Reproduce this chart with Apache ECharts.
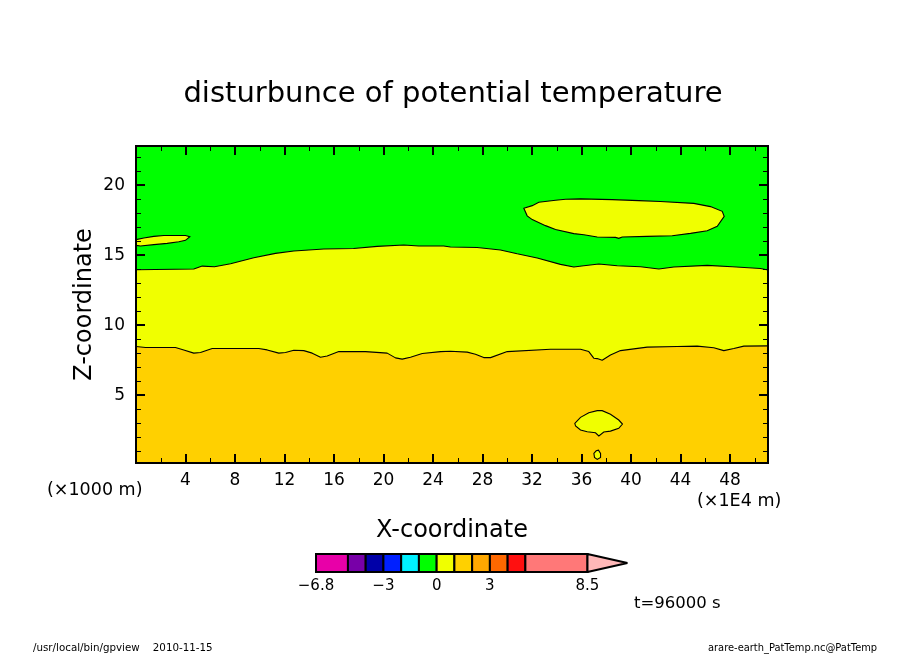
<!DOCTYPE html>
<html><head><meta charset="utf-8">
<style>html,body{margin:0;padding:0;background:#fff}#c{width:904px;height:654px}</style>
<script src="https://cdn.jsdelivr.net/npm/echarts@6/dist/echarts.min.js"></script>
</head><body><div id="c"></div>
<script>
const xMax = 51.07, zMin = 0.15, zMax = 22.8;
const xMajor = [4,8,12,16,20,24,28,32,36,40,44,48];
const xMinor = [2,6,10,14,18,22,26,30,34,38,42,46,50];
const zMajor = [5,10,15,20];
const zMinor = [1,2,3,4,6,7,8,9,11,12,13,14,16,17,18,19,21,22];
const greenTop = [[0,22.8],[51.07,22.8]];
const contourUpper = [[0,13.96],[4.67,14.01],[5.35,14.22],[6.34,14.17],[7.64,14.39],[9.52,14.82],[11.27,15.13],[12.75,15.30],[15.18,15.44],[17.58,15.48],[19.49,15.63],[21.64,15.73],[22.85,15.65],[24.87,15.65],[25.41,15.58],[27.57,15.55],[29.45,15.37],[30.8,15.10],[32.42,14.80],[34.3,14.34],[35.38,14.15],[36.19,14.24],[37.4,14.37],[38.89,14.24],[40.77,14.17],[42.25,14.01],[43.46,14.15],[46.16,14.27],[48.18,14.17],[50.46,14.05],[51.07,13.94]];
const contourLower = [[0,8.47],[0.77,8.40],[3.19,8.40],[3.86,8.23],[4.67,8.00],[5.21,8.04],[6.16,8.33],[9.92,8.33],[10.6,8.23],[11.54,8.00],[12.08,8.04],[12.75,8.21],[13.56,8.18],[14.24,8.00],[14.91,7.71],[15.45,7.80],[16.39,8.11],[18.55,8.11],[20.3,8.00],[20.97,7.66],[21.51,7.57],[22.18,7.71],[23.13,7.97],[24.61,8.11],[25.41,8.14],[26.76,8.07],[27.43,7.92],[28.1,7.68],[28.65,7.68],[30.0,8.11],[33.5,8.28],[35.92,8.28],[36.59,8.11],[36.99,7.64],[37.27,7.61],[37.67,7.49],[38.34,7.87],[39.15,8.18],[41.31,8.43],[43.73,8.47],[45.35,8.50],[46.69,8.38],[47.5,8.18],[48.31,8.33],[49.12,8.50],[51.07,8.52]];
const lensLeft = [[0,16.11],[0.63,16.23],[1.44,16.34],[2.25,16.41],[4.0,16.41],[4.35,16.32],[4.0,16.06],[3.46,15.96],[2.52,15.84],[1.44,15.75],[0.36,15.66],[0,15.70]];
const lensBig = [[31.34,18.35],[32.02,18.54],[32.55,18.78],[33.9,18.92],[34.71,18.99],[35.92,19.02],[38.48,18.97],[40.63,18.90],[42.38,18.83],[45.07,18.70],[46.42,18.47],[47.37,18.13],[47.53,17.77],[46.97,17.06],[46.16,16.75],[44.81,16.56],[43.33,16.39],[41.31,16.34],[39.29,16.30],[39.01,16.20],[38.75,16.27],[37.27,16.30],[36.19,16.46],[35.38,16.54],[33.9,16.84],[33.09,17.11],[32.02,17.54],[31.61,17.81]];
const lensLow = [[35.46,2.98],[35.92,3.41],[36.59,3.74],[37.27,3.89],[37.67,3.89],[38.34,3.63],[39.01,3.22],[39.31,2.93],[39.01,2.63],[38.34,2.43],[37.8,2.36],[37.4,2.08],[37.13,2.31],[36.46,2.38],[35.92,2.51],[35.52,2.79]];
const lensTiny = [[37.0,0.84],[37.19,1.02],[37.37,1.07],[37.54,0.84],[37.54,0.55],[37.27,0.41],[37.05,0.55]];
const barLevels = [-6.8,-5,-4,-3,-2,-1,0,1,2,3,4,5,8.5];
const barColors = ['#e800a8','#7800a8','#0000a8','#0020ff','#00f0ff','#00ff00','#f0ff00','#ffd000','#ffa800','#ff6800','#ff1010','#ff7878'];
const barTipEnd = 10.75, barTipColor = '#ffb8b8';
const barLabels = [-6.8,-3,0,3,8.5];

const F = '"DejaVu Sans"';
const G = {left:136, top:146, width:632, height:317};
const gx = (extra) => Object.assign({
  type:'value', gridIndex:0, min:0, max:xMax, position:'bottom', z:10,
  axisLine:{show:true,onZero:false,lineStyle:{color:'#000',width:2}},
  splitLine:{show:false}, axisLabel:{show:false}, axisTick:{show:false}
}, extra);
const gy = (extra) => Object.assign({
  type:'value', gridIndex:0, min:zMin, max:zMax, position:'left', z:10,
  axisLine:{show:true,onZero:false,lineStyle:{color:'#000',width:2}},
  splitLine:{show:false}, axisLabel:{show:false}, axisTick:{show:false}
}, extra);
const tick = (vals,len,w) => ({show:true,inside:true,length:len,customValues:vals,lineStyle:{color:'#000',width:w}});

const closedLens = (poly) => ({
  type:'custom', xAxisIndex:0, yAxisIndex:0, z:5, silent:true, clip:true,
  coordinateSystem:'cartesian2d', data:poly, encode:{x:0,y:1},
  renderItem:(p,api)=> p.dataIndex===0 ? ({
    type:'polygon',
    shape:{points:poly.map(q=>api.coord(q))},
    style:{fill:'#f0ff00',stroke:'#000',lineWidth:1.1}
  }) : null
});
const band = (data,fill,lw,z) => ({
  type:'line', xAxisIndex:0, yAxisIndex:0, data, z, showSymbol:false, symbol:'none', silent:true,
  lineStyle:{color:'#000',width:lw}, areaStyle:{color:fill,opacity:1,origin:'start'}
});

const chart = echarts.init(document.getElementById('c'),null,{renderer:'canvas'});
chart.setOption({
  animation:false, backgroundColor:'#fff',
  title:{text:'disturbunce of potential temperature',left:448,textAlign:'center',top:75,
    textStyle:{fontFamily:F,fontSize:29,fontWeight:'normal',color:'#000'}},
  grid:[G,{left:316,top:554,width:311.4,height:18}],
  xAxis:[
    gx({name:'X-coordinate',nameLocation:'middle',nameGap:56,nameTextStyle:{fontFamily:F,fontSize:24,color:'#000'},
        axisLabel:{show:true,customValues:xMajor,margin:9,fontFamily:F,fontSize:17,color:'#000'},axisTick:tick(xMajor,9,2)}),
    gx({axisTick:tick(xMinor,5,1)}),
    gx({position:'top',axisTick:tick(xMajor,9,2)}),
    gx({position:'top',axisTick:tick(xMinor,5,1)}),
    {type:'value',gridIndex:1,min:barLevels[0],max:barTipEnd,position:'bottom',
     axisLine:{show:false},splitLine:{show:false},axisTick:{show:false},
     axisLabel:{show:true,customValues:barLabels,margin:7,fontFamily:F,fontSize:15,color:'#000',
       formatter:v=>String(v).replace('-','\u2212')}}
  ],
  yAxis:[
    gy({name:'Z-coordinate',nameLocation:'middle',nameGap:39,nameMoveOverlap:false,nameRotate:90,nameTextStyle:{fontFamily:F,fontSize:24,color:'#000'},
        axisLabel:{show:true,customValues:zMajor,margin:11,fontFamily:F,fontSize:17,color:'#000'},axisTick:tick(zMajor,9,2)}),
    gy({axisTick:tick(zMinor,5,1)}),
    gy({position:'right',axisTick:tick(zMajor,9,2)}),
    gy({position:'right',axisTick:tick(zMinor,5,1)}),
    {type:'value',gridIndex:1,min:0,max:1,show:false}
  ],
  series:[
    band(greenTop,'#00ff00',0,2),
    band(contourUpper,'#f0ff00',1.1,3),
    band(contourLower,'#ffd000',1.1,4),
    closedLens(lensLeft),closedLens(lensBig),closedLens(lensLow),closedLens(lensTiny),
    {type:'custom',xAxisIndex:4,yAxisIndex:4,silent:true,coordinateSystem:'cartesian2d',z:5,
     data:barColors.map((c,i)=>[barLevels[i],barLevels[i+1]]),encode:{x:[0,1]},
     renderItem:(p,api)=>{
       const a=api.coord([api.value(0),1]),b=api.coord([api.value(1),0]);
       return {type:'rect',shape:{x:a[0],y:a[1],width:b[0]-a[0],height:b[1]-a[1]},
         style:{fill:barColors[p.dataIndex],stroke:'#000',lineWidth:2}};
     }},
    {type:'custom',xAxisIndex:4,yAxisIndex:4,silent:true,coordinateSystem:'cartesian2d',z:5,
     data:[[barLevels[barLevels.length-1],barTipEnd]],encode:{x:[0,1]},
     renderItem:(p,api)=>({type:'polygon',shape:{points:[api.coord([api.value(0),1]),api.coord([api.value(1),0.5]),api.coord([api.value(0),0])]},
       style:{fill:barTipColor,stroke:'#000',lineWidth:2,lineJoin:'bevel'}})}
  ],
  graphic:[
    {type:'text',left:47,top:481,style:{text:'(\u00d71000 m)',fontFamily:F,fontSize:17.5,fill:'#000'}},
    {type:'text',left:697,top:492,style:{text:'(\u00d71E4 m)',fontFamily:F,fontSize:17.5,fill:'#000'}},
    {type:'text',left:634,top:595,style:{text:'t=96000 s',fontFamily:F,fontSize:16.5,fill:'#000'}},
    {type:'text',left:33,top:643,style:{text:'/usr/local/bin/gpview    2010-11-15',fontFamily:F,fontSize:10.3,fill:'#000'}},
    {type:'text',left:708,top:643,style:{text:'arare-earth_PatTemp.nc@PatTemp',fontFamily:F,fontSize:9.9,fill:'#000'}}
  ]
});
</script></body></html>
